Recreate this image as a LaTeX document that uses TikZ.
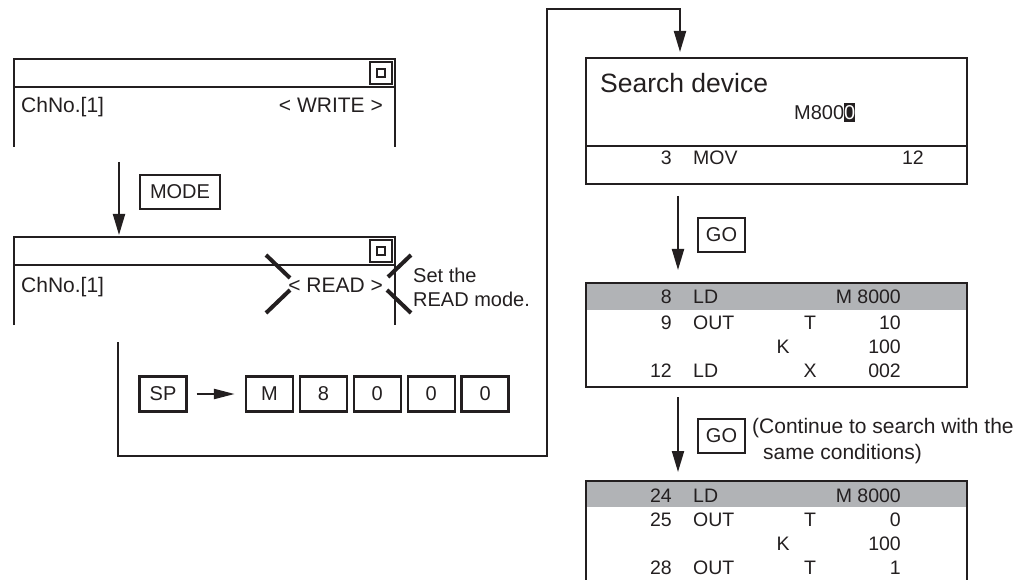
\documentclass[tikz,border=0pt]{standalone}
\usepackage{fontspec}
\setmainfont{Liberation Sans}
\usepackage{xcolor}
\usepackage{tikz}
\usetikzlibrary{arrows.meta,positioning}
\definecolor{inkblack}{HTML}{231F20}
\definecolor{rowgray}{HTML}{B1B3B6}
\tikzset{
  screen/.style={draw=inkblack,line width=2.3pt},
  key/.style={draw=inkblack,line width=2.4pt,minimum width=47pt,minimum height=35pt,
    inner sep=0pt,text=inkblack,font=\fontsize{20}{24}\selectfont},
  scrtext/.style={inner sep=0pt,text=inkblack,font=\fontsize{21}{25}\selectfont},
  rowtext/.style={inner sep=0pt,text=inkblack,font=\fontsize{19.5}{23}\selectfont},
  note/.style={inner sep=0pt,text=inkblack,align=left},
  flow/.style={draw=inkblack,line width=2pt,-{Triangle[length=21pt,width=12pt]}},
  hilite/.style={draw=inkblack,line width=4pt}
}

\begin{document}
\begin{tikzpicture}[x=1pt,y=-1pt]
  \useasboundingbox (0,0) rectangle (1018,580);
  % Screens (WRITE / READ)
  \foreach \ty in {59,237} {
    \draw[screen] (14,\ty+88) -- (14,\ty) -- (395,\ty) -- (395,\ty+88);
    \draw[screen] (14,\ty+28) -- (395,\ty+28);
    \draw[inkblack,line width=2pt] (370,\ty+3) rectangle (392,\ty+25);
    \draw[inkblack,line width=2.5pt] (377,\ty+10) rectangle (385,\ty+18);
  }
  \node[scrtext,anchor=base west] (ch1) at (21,113) {ChNo.[1]};
  \node[scrtext,anchor=base east] (wr) at (383,113) {< WRITE >};
  \node[scrtext,anchor=base west] (ch2) at (21,293) {ChNo.[1]};
  \node[scrtext,anchor=base east] (rd) at (383,293) {< READ >};
  % MODE key
  \coordinate (scr1) at (119,162);
  \coordinate (scr2) at (119,235);
  \draw[flow] (scr1) -- (scr2);
  \node[key,minimum width=80pt,minimum height=34pt] (mode) at (180,192) {MODE};
  % Marks round READ
  \draw[hilite] (266,255) -- (290,278);
  \draw[hilite] (266,313) -- (290,290);
  \draw[hilite] (411,255) -- (388,277);
  \draw[hilite] (387,290) -- (411,313);
  \node[note,anchor=west,font=\fontsize{20}{24}\selectfont] (setread) at (413,287)
    {Set the\\READ mode.};
  % Key input
  \node[key] (sp) at (163,394) {SP};
  \foreach \k [count=\i] in {M,8,0,0,0}
    \node[key] (k\i) at ({269.5+53.9*(\i-1)},394) {\k};
  \draw[flow,line width=2.4pt,-{Triangle[length=21pt,width=10pt]},
    shorten <=9pt,shorten >=10pt] (sp) -- (k1);
  % Loop to search screen
  \coordinate (loopin) at (118,342);
  \coordinate (sdin) at (680,52);
  \draw[flow] (loopin) |- (547,456) |- (680,9) -- (sdin);
  % Search device screen
  \draw[screen] (586,58) rectangle (967,184);
  \draw[screen] (586,146) -- (967,146);
  \node[scrtext,anchor=base west,font=\fontsize{26.5}{30}\selectfont] (sd) at (600,92.5)
    {Search device};
  \node[scrtext,anchor=base west,font=\fontsize{20}{24}\selectfont] (dev) at (794,120)
    {M800{\fboxsep=0pt\colorbox{inkblack}{\rule[-2pt]{0pt}{19pt}\textcolor{white}{0}}}};
  \node[rowtext,anchor=base east] (sdnum) at (672,165) {3};
  \node[rowtext,anchor=base west] (sdins) at (693,165) {MOV};
  \node[rowtext,anchor=base east] (sdval) at (924,165) {12};
  % GO key
  \coordinate (sdout) at (678,196);
  \coordinate (lst1in) at (678,270);
  \draw[flow] (sdout) -- (lst1in);
  \node[key,minimum height=34pt] (go1) at (721.5,235) {GO};
  % Lists
  \fill[rowgray] (586,283) rectangle (967,310);
  \draw[screen] (586,283) rectangle (967,387);
  \fill[rowgray] (586,481) rectangle (967,507);
  \draw[screen] (586,580) -- (586,481) -- (967,481) -- (967,580);
  \foreach \y/\n/\op/\lx/\l/\v in {297/8/LD/810//M 8000, 322/9/OUT/810/T/10,
      346///783/K/100, 370/12/LD/810/X/002, 495/24/LD/810//M 8000,
      519/25/OUT/810/T/0, 543///783/K/100, 567/28/OUT/810/T/1} {
    \node[rowtext,anchor=base east] (num\y) at (672,\y+7) {\n};
    \node[rowtext,anchor=base west] (ins\y) at (693,\y+7) {\op};
    \node[rowtext,anchor=base] (dv\y) at (\lx,\y+7) {\l};
    \node[rowtext,anchor=base east] (val\y) at (901,\y+7) {\v};
  }
  % GO key, same conditions
  \coordinate (lst1out) at (678,397);
  \coordinate (lst2in) at (678,472);
  \draw[flow] (lst1out) -- (lst2in);
  \node[key,minimum height=34pt] (go2) at (721.5,436) {GO};
  \node[note,anchor=west,font=\fontsize{21}{26}\selectfont] (cont) at (752,441)
    {(Continue to search with the\\\hspace*{11pt}same conditions)};
\end{tikzpicture}
\end{document}
